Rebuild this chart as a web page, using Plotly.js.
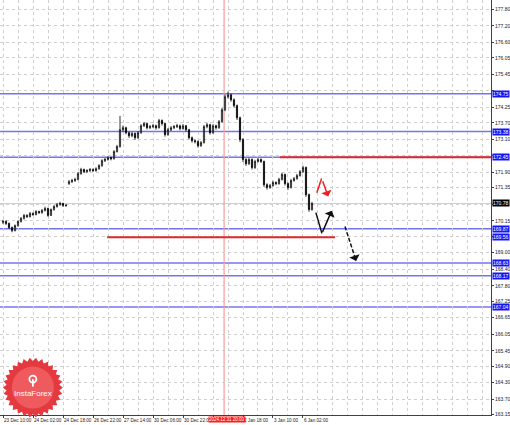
<!DOCTYPE html>
<html>
<head>
<meta charset="utf-8">
<script src="https://cdn.plot.ly/plotly-3.0.1.min.js"></script>
<style>html,body{margin:0;padding:0;background:#fff;}#chart{width:510px;height:425px;}</style>
</head>
<body>
<div id="chart"></div>
<script>
// ---- data ----
const barIndex = [0,1,2,3,4,5,6,7,8,9,10,11,12,13,14,15,16,17,18,19,20,21,22,23,24,25,26,27,28,29,30,31,32,33,34,35,36,37,38,39,40,41,42,43,44,45,46,47,48,49,50,51,52,53,54,55,56,57,58,59,60,61,62,63,64,65,66,67,68,69,70,71,72,73,74,75,76,77,78,79,80,81,82,83,84,85,86,87,88,89,90,91,92,93,94,95,96,97,98,99,100,101,102,103];
const openP = [170.10,170.13,170.06,169.91,169.80,169.98,170.13,170.24,170.35,170.31,170.42,170.38,170.49,170.45,170.53,170.60,170.35,170.56,170.67,170.74,170.78,170.71,171.50,171.57,171.61,171.65,171.86,172.01,171.93,171.97,172.01,171.97,172.04,172.15,172.33,172.37,172.44,172.40,172.66,172.84,173.45,173.52,173.34,173.23,173.31,173.16,173.34,173.59,173.67,173.52,173.56,173.59,173.52,173.78,173.67,173.27,173.45,173.52,173.56,173.59,173.49,173.59,173.45,173.16,173.05,173.02,172.87,172.98,173.56,173.63,173.34,173.59,173.52,173.74,174.17,174.64,174.71,174.53,174.32,173.88,173.09,172.37,172.22,172.37,172.08,172.30,172.37,172.30,171.46,171.36,171.43,171.54,171.50,171.65,171.83,171.50,171.36,171.61,171.68,171.79,171.93,172.08,171.10,170.56];
const highP = [170.19,170.17,170.09,169.95,170.02,170.17,170.29,170.40,170.39,170.47,170.46,170.54,170.52,170.58,170.66,170.63,170.60,170.72,170.80,170.84,170.81,170.76,171.63,171.67,171.71,171.92,172.07,172.04,172.02,172.06,172.05,172.09,172.20,172.38,172.43,172.49,172.48,172.71,172.90,173.95,173.60,173.56,173.38,173.37,173.35,173.40,173.65,173.73,173.70,173.62,173.66,173.63,173.84,173.82,173.70,173.51,173.58,173.62,173.66,173.63,173.65,173.62,173.48,173.20,173.10,173.06,173.04,173.62,173.70,173.66,173.65,173.63,173.80,174.24,174.72,174.82,174.75,174.58,174.36,173.92,173.14,172.42,172.43,172.41,172.36,172.43,172.41,172.33,171.51,171.49,171.60,171.58,171.71,171.89,171.86,171.54,171.67,171.74,171.85,171.99,172.15,172.12,171.14,170.84];
const lowP = [170.04,170.00,169.86,169.74,169.77,169.94,170.09,170.20,170.25,170.27,170.33,170.35,170.40,170.41,170.49,170.30,170.33,170.52,170.63,170.70,170.66,170.66,171.45,171.52,171.56,171.62,171.82,171.88,171.89,171.92,171.92,171.93,172.00,172.11,172.28,172.33,172.34,172.37,172.62,172.80,173.38,173.28,173.15,173.18,173.08,173.12,173.30,173.55,173.46,173.47,173.51,173.45,173.49,173.60,173.20,173.23,173.40,173.47,173.51,173.43,173.45,173.38,173.10,172.98,172.95,172.80,172.83,172.95,173.50,173.27,173.30,173.45,173.48,173.70,174.12,174.58,174.46,174.25,173.80,173.00,172.28,172.14,172.17,172.01,172.03,172.26,172.24,171.38,171.28,171.31,171.39,171.44,171.46,171.61,171.43,171.27,171.32,171.57,171.64,171.75,171.89,171.02,170.48,170.52];
const closeP = [170.13,170.06,169.91,169.80,169.98,170.13,170.24,170.35,170.31,170.42,170.38,170.49,170.45,170.53,170.60,170.35,170.56,170.67,170.74,170.78,170.71,170.71,171.57,171.61,171.65,171.86,172.01,171.93,171.97,172.01,171.97,172.04,172.15,172.33,172.37,172.44,172.40,172.66,172.84,173.45,173.52,173.34,173.23,173.31,173.16,173.34,173.59,173.67,173.52,173.56,173.59,173.52,173.78,173.67,173.27,173.45,173.52,173.56,173.59,173.49,173.59,173.45,173.16,173.05,173.02,172.87,172.98,173.56,173.63,173.34,173.59,173.52,173.74,174.17,174.64,174.71,174.53,174.32,173.88,173.09,172.37,172.22,172.37,172.08,172.30,172.37,172.30,171.46,171.36,171.43,171.54,171.50,171.65,171.83,171.50,171.36,171.61,171.68,171.79,171.93,172.08,171.10,170.56,170.78];

// x-axis time labels (every 10 bars)
const xTickPos = [0,10,20,30,40,50,60,70,80,90,100];
const xTickText = ["23 Dec 10:00","24 Dec 02:00","24 Dec 18:00","26 Dec 22:00","27 Dec 14:00","30 Dec 06:00","30 Dec 22:00","","2 Jan 18:00","3 Jan 10:00","6 Jan 02:00"];
const xGridPos = [0,5,10,15,20,25,30,35,40,45,50,55,60,65,70,75,80,85,90,95,100,105,110,115,120,125,130,135,140,145,150,155,160];

// y-axis price labels
const yTickVals = [177.80,177.20,176.60,176.05,175.45,174.85,174.25,173.70,173.10,172.50,171.90,171.35,170.75,170.15,169.60,169.00,168.40,167.80,167.25,166.65,166.05,165.45,164.90,164.30,163.70,163.15];
const yTickText = ["177.80","177.20","176.60","176.05","175.45","","174.25","173.70","173.10","","171.90","171.35","","170.15","","169.00","168.40","167.80","167.25","166.65","166.05","165.45","164.90","164.30","163.70","163.15"];

// horizontal levels
const blueLevels = [174.75, 173.38, 172.45, 169.87, 168.63, 168.17, 167.04];
const redLevelA = 172.45;   const redLevelAStart = 92.3;
const redLevelB = 169.56;   const redLevelBStart = 34.7; const redLevelBEnd = 110.7;
const currentPrice = 170.78;
const cursorBar = 73.7;     const cursorLabel = "2024.12.31 20:00";

// forecast arrows (bar, price)
const blackPathX = [104.3, 106.3];       const blackPathY = [170.45, 169.70];
const blackHead = {x:109.6, y:170.52, ax:106.3, ay:169.70};
const blackDashX = [114.0, 117.7];        const blackDashY = [169.95, 168.70];
const redPathX = [104.6, 106.2];          const redPathY = [171.17, 171.68];
const redHead = {x:108.4, y:171.03, ax:106.4, ay:171.64};

// ---- layout ----
const FONT = "Liberation Sans, Arial, sans-serif";
const shapes = [];
blueLevels.forEach(v => shapes.push({type:'line', xref:'paper', x0:0, x1:1, yref:'y', y0:v, y1:v,
  line:{color:'#7474f2', width:1.5}, layer:'below'}));
shapes.push({type:'line', xref:'paper', x0:0, x1:1, yref:'y', y0:currentPrice, y1:currentPrice,
  line:{color:'#d0d0d0', width:1}, layer:'below'});
shapes.push({type:'line', xref:'x', x0:redLevelAStart, x1:165, yref:'y', y0:redLevelA, y1:redLevelA,
  line:{color:'#e02828', width:2}});
shapes.push({type:'line', xref:'x', x0:redLevelBStart, x1:redLevelBEnd, yref:'y', y0:redLevelB, y1:redLevelB,
  line:{color:'#e02828', width:2}});
shapes.push({type:'line', xref:'x', x0:cursorBar, x1:cursorBar, yref:'paper', y0:0, y1:1,
  line:{color:'#ff9a9a', width:1.2}, layer:'below'});
shapes.push({type:'line', xref:'x', yref:'y', x0:blackPathX[0], x1:blackPathX[1], y0:blackPathY[0], y1:blackPathY[1],
  line:{color:'#111', width:1.5}});
shapes.push({type:'line', xref:'x', yref:'y', x0:blackDashX[0], x1:blackDashX[1], y0:blackDashY[0], y1:blackDashY[1],
  line:{color:'#111', width:1.5, dash:'4px,2px'}});
shapes.push({type:'line', xref:'x', yref:'y', x0:redPathX[0], x1:redPathX[1], y0:redPathY[0], y1:redPathY[1],
  line:{color:'#ee2222', width:1.5}});

// InstaForex logo (decorative starburst)
let star = '';
const teeth = 30, rOut = 30, rIn = 26.5;
for (let k = 0; k < teeth*2; k++) {
  const r = (k % 2 === 0) ? rOut : rIn;
  const a = Math.PI * k / teeth;
  star += (k === 0 ? 'M' : 'L') + (r*Math.cos(a)).toFixed(2) + ',' + (r*Math.sin(a)).toFixed(2);
}
star += 'Z';
const LX = 0.067, LY = 0.066;
shapes.push({type:'path', xref:'paper', yref:'paper', xsizemode:'pixel', ysizemode:'pixel',
  xanchor:LX, yanchor:LY, path:star, fillcolor:'#e4393f', line:{width:0}, layer:'above'});
shapes.push({type:'circle', xref:'paper', yref:'paper', xsizemode:'pixel', ysizemode:'pixel',
  xanchor:LX, yanchor:LY, x0:-21, x1:21, y0:-21, y1:21, fillcolor:'#ee5a5e', line:{width:0}, layer:'above'});
shapes.push({type:'circle', xref:'paper', yref:'paper', xsizemode:'pixel', ysizemode:'pixel',
  xanchor:LX, yanchor:LY, x0:-3.5, x1:3.5, y0:5, y1:12, fillcolor:'rgba(0,0,0,0)', line:{color:'#fff', width:1.8}, layer:'above'});
shapes.push({type:'line', xref:'paper', yref:'paper', xsizemode:'pixel', ysizemode:'pixel',
  xanchor:LX, yanchor:LY, x0:0, x1:0, y0:8.5, y1:1, line:{color:'#fff', width:1.8}, layer:'above'});

const annotations = [];
const boxLabel = (v, txt, bg) => annotations.push({xref:'paper', x:1, xanchor:'left', xshift:1,
  yref:'y', y:v, yanchor:'middle', text:txt, showarrow:false, bgcolor:bg, borderpad:0,
  font:{family:FONT, size:5, color:'#ffffff'}});
blueLevels.forEach(v => boxLabel(v, v.toFixed(2), '#1515f5'));
boxLabel(redLevelB, redLevelB.toFixed(2), '#1515f5');
boxLabel(currentPrice, currentPrice.toFixed(2), '#000000');
annotations.push({xref:'x', x:cursorBar, xshift:3, yref:'paper', y:0, yanchor:'top', yshift:-1, text:cursorLabel,
  showarrow:false, bgcolor:'#ff1c1c', borderpad:0, font:{family:FONT, size:4.5, color:'#ffffff'}});
annotations.push({xref:'x', yref:'y', axref:'x', ayref:'y', x:blackHead.x, y:blackHead.y, ax:blackHead.ax, ay:blackHead.ay,
  text:'', showarrow:true, arrowhead:1, arrowsize:1.2, arrowwidth:1.5, arrowcolor:'#111'});
annotations.push({xref:'x', yref:'y', axref:'x', ayref:'y', x:blackDashX[1], y:blackDashY[1], ax:blackDashX[1]-0.6, ay:blackDashY[1]+0.2,
  text:'', showarrow:true, arrowhead:1, arrowsize:1.2, arrowwidth:1.5, arrowcolor:'#111'});
annotations.push({xref:'x', yref:'y', axref:'x', ayref:'y', x:redHead.x, y:redHead.y, ax:redHead.ax, ay:redHead.ay,
  text:'', showarrow:true, arrowhead:1, arrowsize:1.2, arrowwidth:1.5, arrowcolor:'#ee2222'});
annotations.push({xref:'paper', yref:'paper', x:LX, y:LY, xanchor:'center', yanchor:'middle', yshift:-6,
  text:'InstaForex', showarrow:false, font:{family:FONT, size:8, color:'#ffffff'}});

const trace = {
  type:'candlestick', x:barIndex, open:openP, high:highP, low:lowP, close:closeP,
  increasing:{line:{color:'#000000', width:0.8}, fillcolor:'#ffffff'},
  decreasing:{line:{color:'#000000', width:0.8}, fillcolor:'#000000'},
  whiskerwidth:0, hoverinfo:'skip', showlegend:false
};

const layout = {
  width:510, height:425,
  margin:{l:0, r:19, t:0, b:10, pad:0},
  paper_bgcolor:'#ffffff', plot_bgcolor:'#ffffff',
  showlegend:false, boxgap:0.45,
  xaxis:{range:[-1, 162.67], rangeslider:{visible:false}, tickmode:'array',
    tickvals:xTickPos, ticktext:xTickText, tickangle:0, ticks:'outside', ticklen:2, tickcolor:'#404040',
    ticklabelposition:'outside right', ticklabelstandoff:0,
    showgrid:false, zeroline:false, showline:true, linecolor:'#404040', linewidth:1,
    tickfont:{family:FONT, size:4.6, color:'#222'}, fixedrange:true,
    minor:{tickmode:'array', tickvals:xGridPos, showgrid:true, gridcolor:'#cfcfcf', griddash:'dot', gridwidth:1, ticks:''}},
  yaxis:{side:'right', range:[163.13, 178.14], tickmode:'array', tickvals:yTickVals, ticktext:yTickText,
    ticks:'outside', ticklen:2, tickcolor:'#404040', ticklabelstandoff:0,
    showgrid:true, gridcolor:'#cfcfcf', griddash:'dot', gridwidth:1, zeroline:false,
    showline:true, linecolor:'#404040', linewidth:1,
    tickfont:{family:FONT, size:5, color:'#222'}, fixedrange:true},
  shapes:shapes, annotations:annotations
};

Plotly.newPlot('chart', [trace], layout, {staticPlot:true, displayModeBar:false});
</script>
</body>
</html>
